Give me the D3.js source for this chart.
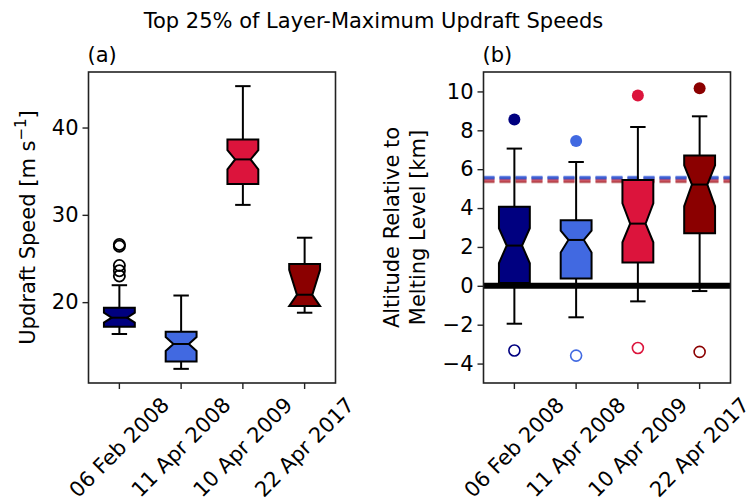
<!DOCTYPE html>
<html>
<head>
<meta charset="utf-8">
<script src="https://cdn.jsdelivr.net/npm/d3@7"></script>
<style>
  body { margin: 0; background: #fff; }
  text { font-family: "DejaVu Sans", sans-serif; fill: #000; }
</style>
</head>
<body>
<svg id="chart" width="747" height="501"></svg>
<script>
var DATES = ["06 Feb 2008", "11 Apr 2008", "10 Apr 2009", "22 Apr 2017"];
var COLORS = ["navy", "royalblue", "crimson", "darkred"];

/* (a) updraft speed, m/s */
var speedWhiskerLo = [16.35, 12.36, 31.14, 18.79];
var speedQ1 = [17.19, 13.2, 33.53, 19.55];
var speedNotchLo = [17.65, 14.41, 35.21, 19.55];
var speedMedian = [18.22, 15.21, 36.35, 20.85];
var speedNotchHi = [18.79, 16.0, 37.41, 23.7];
var speedQ3 = [19.36, 16.62, 38.63, 24.38];
var speedWhiskerHi = [21.94, 20.76, 44.74, 27.38];
var speedOutliers = [[23.0, 23.6, 24.2, 26.4, 26.6], [], [], []];
var speedTicks = [20, 30, 40];

/* (b) altitude relative to melting level, km */
var altWhiskerLo = [-1.95, -1.62, -0.8, -0.27];
var altQ1 = [0.14, 0.38, 1.2, 2.7];
var altNotchLo = [1.16, 1.71, 2.24, 4.1];
var altMedian = [2.07, 2.36, 3.2, 5.21];
var altNotchHi = [2.96, 2.84, 4.24, 6.2];
var altQ3 = [4.07, 3.37, 5.44, 6.7];
var altWhiskerHi = [7.06, 6.37, 8.17, 8.72];
var altMax = [8.56, 7.45, 9.79, 10.17];
var altMin = [-3.33, -3.59, -3.2, -3.4];
var meltLevel = [5.54, 5.58, 5.40, 5.36];
var altTicks = [-4, -2, 0, 2, 4, 6, 8, 10];

var svg = d3.select("#chart");
var FONT = 21;

svg.append("text")
    .attr("x", 373.5).attr("y", 28)
    .attr("text-anchor", "middle")
    .style("font-size", "21px")
    .text("Top 25% of Layer-Maximum Updraft Speeds");

function boxRows(wlo, q1, nlo, med, nhi, q3, whi) {
    return DATES.map(function (d, i) {
        return {date: d, color: COLORS[i], wlo: wlo[i], q1: q1[i], nlo: nlo[i],
            med: med[i], nhi: nhi[i], q3: q3[i], whi: whi[i]};
    });
}

function drawPanel(opts) {
    var g = svg.append("g");
    var x = d3.scaleBand().domain(DATES).range([opts.left, opts.right]).paddingInner(0).paddingOuter(0);
    var y = d3.scaleLinear().domain(opts.domain).range([opts.bottom, opts.top]);
    var step = x.bandwidth();
    var hw = step * 0.25, cw = hw / 2;
    var cx = function (d) { return x(d) + step / 2; };

    if (opts.before) opts.before(g, x, y, cx);

    var rows = opts.rows;
    var box = g.selectAll(".box").data(rows).enter().append("g").attr("class", "box");

    box.append("line")
        .attr("x1", function (d) { return cx(d.date); }).attr("x2", function (d) { return cx(d.date); })
        .attr("y1", function (d) { return y(d.q1); }).attr("y2", function (d) { return y(d.wlo); })
        .attr("stroke", "#000").attr("stroke-width", 2);
    box.append("line")
        .attr("x1", function (d) { return cx(d.date); }).attr("x2", function (d) { return cx(d.date); })
        .attr("y1", function (d) { return y(d.q3); }).attr("y2", function (d) { return y(d.whi); })
        .attr("stroke", "#000").attr("stroke-width", 2);
    ["wlo", "whi"].forEach(function (k) {
        box.append("line")
            .attr("x1", function (d) { return cx(d.date) - cw; }).attr("x2", function (d) { return cx(d.date) + cw; })
            .attr("y1", function (d) { return y(d[k]); }).attr("y2", function (d) { return y(d[k]); })
            .attr("stroke", "#000").attr("stroke-width", 2);
    });

    box.append("path")
        .attr("d", function (d) {
            var c = cx(d.date);
            var pts = [[c - hw, d.q1], [c - hw, d.nlo], [c - cw, d.med], [c - hw, d.nhi], [c - hw, d.q3],
                [c + hw, d.q3], [c + hw, d.nhi], [c + cw, d.med], [c + hw, d.nlo], [c + hw, d.q1]];
            return d3.line().x(function (p) { return p[0]; }).y(function (p) { return y(p[1]); })(pts) + "Z";
        })
        .attr("fill", function (d) { return d.color; })
        .attr("stroke", "#000").attr("stroke-width", 2).attr("stroke-linejoin", "miter");
    box.append("line")
        .attr("x1", function (d) { return cx(d.date) - cw; }).attr("x2", function (d) { return cx(d.date) + cw; })
        .attr("y1", function (d) { return y(d.med); }).attr("y2", function (d) { return y(d.med); })
        .attr("stroke", "#000").attr("stroke-width", 2);

    if (opts.after) opts.after(g, x, y, cx);

    /* frame */
    g.append("rect")
        .attr("x", opts.left).attr("y", opts.top)
        .attr("width", opts.right - opts.left).attr("height", opts.bottom - opts.top)
        .attr("fill", "none").attr("stroke", "#222").attr("stroke-width", 1.6);

    /* y axis */
    var yAxis = g.append("g")
        .attr("transform", "translate(" + opts.left + ",0)")
        .call(d3.axisLeft(y).tickValues(opts.ticks).tickSize(6).tickPadding(4)
            .tickFormat(function (v) { return v < 0 ? "\u2212" + Math.abs(v) : v; }));
    yAxis.select(".domain").remove();
    yAxis.selectAll(".tick line").attr("stroke", "#222").attr("stroke-width", 1.4);
    yAxis.selectAll(".tick text").style("font-size", FONT + "px").style("font-family", "DejaVu Sans");

    /* x axis */
    var xAxis = g.append("g")
        .attr("transform", "translate(0," + opts.bottom + ")")
        .call(d3.axisBottom(x).tickSize(6).tickFormat(""));
    xAxis.select(".domain").remove();
    xAxis.selectAll(".tick line").attr("stroke", "#222").attr("stroke-width", 1.4);

    DATES.forEach(function (d) {
        var t = g.append("text")
            .attr("text-anchor", "middle")
            .attr("dominant-baseline", "central")
            .style("font-size", FONT + "px")
            .text(d);
        var w = t.node().getComputedTextLength();
        var hbox = (w + FONT * 1.0) * Math.SQRT1_2;
        var px = cx(d), py = opts.bottom + 11 + hbox / 2;
        t.attr("transform", "translate(" + px + "," + py + ") rotate(-45)");
    });

    /* panel letter */
    svg.append("text")
        .attr("x", opts.left - 1).attr("y", 62)
        .style("font-size", FONT + "px")
        .text(opts.letter);

    return {x: x, y: y};
}

/* (a) */
drawPanel({
    left: 88.5, right: 335.5, top: 72, bottom: 383,
    domain: [10.74, 46.36], ticks: speedTicks, letter: "(a)",
    rows: boxRows(speedWhiskerLo, speedQ1, speedNotchLo, speedMedian, speedNotchHi, speedQ3, speedWhiskerHi),
    after: function (g, x, y, cx) {
        DATES.forEach(function (d, i) {
            g.selectAll(".flier" + i).data(speedOutliers[i]).enter().append("circle")
                .attr("cx", cx(d)).attr("cy", function (v) { return y(v); })
                .attr("r", 5.6).attr("fill", "none").attr("stroke", "#000").attr("stroke-width", 1.8);
        });
    }
});

svg.append("text")
    .attr("transform", "translate(35,227.5) rotate(-90)")
    .attr("text-anchor", "middle")
    .style("font-size", FONT + "px")
    .call(function (t) {
        t.append("tspan").text("Updraft Speed [m s");
        t.append("tspan").attr("dy", -9).style("font-size", "15px").text("\u22121");
        t.append("tspan").attr("dy", 9).text("]");
    });

/* (b) */
drawPanel({
    left: 483.5, right: 730.5, top: 72, bottom: 383,
    domain: [-5, 11], ticks: altTicks, letter: "(b)",
    rows: boxRows(altWhiskerLo, altQ1, altNotchLo, altMedian, altNotchHi, altQ3, altWhiskerHi),
    before: function (g, x, y) {
        DATES.forEach(function (d, i) {
            g.append("line")
                .attr("x1", 483.5).attr("x2", 730.5)
                .attr("y1", y(meltLevel[i])).attr("y2", y(meltLevel[i]))
                .attr("stroke", COLORS[i]).attr("stroke-width", 3)
                .attr("stroke-opacity", i < 2 ? 0.75 : 0.5)
                .attr("stroke-dasharray", "11,5");
        });
    },
    after: function (g, x, y, cx) {
        g.append("line")
            .attr("x1", 483.5).attr("x2", 730.5)
            .attr("y1", y(0)).attr("y2", y(0))
            .attr("stroke", "#000").attr("stroke-width", 6);
        DATES.forEach(function (d, i) {
            g.append("circle")
                .attr("cx", cx(d)).attr("cy", y(altMax[i]))
                .attr("r", 6).attr("fill", COLORS[i]);
            g.append("circle")
                .attr("cx", cx(d)).attr("cy", y(altMin[i]))
                .attr("r", 5.5).attr("fill", "none")
                .attr("stroke", COLORS[i]).attr("stroke-width", 1.6);
        });
    }
});

svg.append("text")
    .attr("transform", "translate(412,227.5) rotate(-90)")
    .attr("text-anchor", "middle")
    .style("font-size", FONT + "px")
    .call(function (t) {
        t.append("tspan").attr("x", 0).attr("dy", "-0.6em").text("Altitude Relative to");
        t.append("tspan").attr("x", 0).attr("dy", "1.2em").text("Melting Level [km]");
    });
</script>
</body>
</html>
